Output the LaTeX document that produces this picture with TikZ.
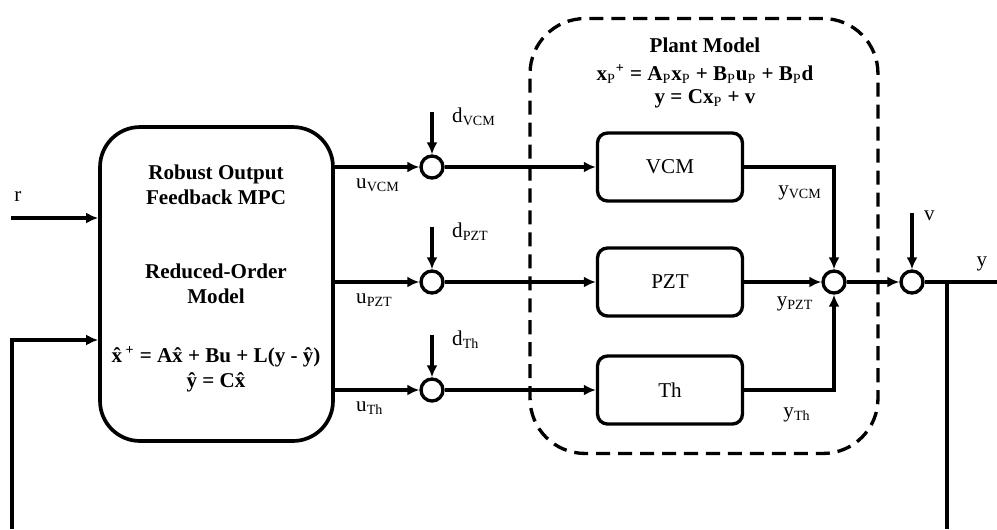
\documentclass[tikz,border=0pt]{standalone}
\usepackage{fontspec}
\setmainfont{Liberation Serif}
\usetikzlibrary{positioning,arrows.meta}

\tikzset{
  wire/.style={line width=1.9pt},
  sig/.style={wire, -{Latex[length=2.4mm,width=2.2mm]}},
  ctrl/.style={draw, line width=2.1pt, rounded corners=0.8cm, minimum width=4.66cm, minimum height=6.28cm},
  blk/.style={draw, line width=1.9pt, rounded corners=0.2cm, minimum width=2.9cm, minimum height=1.36cm},
  sumc/.style={draw, circle, line width=1.9pt, minimum size=0.44cm, inner sep=0pt},
  plantbox/.style={draw, line width=1.9pt, dash pattern=on 8pt off 4.5pt, rounded corners=1.1cm, minimum width=6.96cm, minimum height=8.7cm},
  bold/.style={font=\bfseries\fontsize{12}{14.2}\selectfont, align=center},
}

\begin{document}
\begin{tikzpicture}[x=0.02cm, y=-0.02cm, font=\fontsize{12}{14}\selectfont]
\useasboundingbox (0,0) rectangle (997,529);
% plant model frame
\node[plantbox] (plant) at (704,236) {};
\node[bold] (ptitle) at (705,45) {Plant Model};
\node[bold] (peq1) at (705,74) {x\textsubscript{\mdseries P}\textsuperscript{+} = A\textsubscript{\mdseries P}x\textsubscript{\mdseries P} + B\textsubscript{\mdseries P}u\textsubscript{\mdseries P} + B\textsubscript{\mdseries P}d};
\node[bold] (peq2) at (705,99) {y = Cx\textsubscript{\mdseries P} + v};
% controller
\node[ctrl] (mpc) at (216.5,284) {};
\node[bold] (mpct) at (216,184.5) {Robust Output\\Feedback MPC};
\node[bold] (romt) at (216,283.5) {Reduced-Order\\Model};
\node[bold] (obs) at (216,369) {\^{x}\,\textsuperscript{+} = A\^{x} + Bu + L(y - \^{y})\\\^{y} = C\^{x}};
% inputs to controller
\coordinate (rin) at (11,218);
\draw[sig] (rin) -- (rin -| mpc.west);
\node (rlab) at (18,197) {r};
\coordinate (fbl) at (12,529);
\draw[sig] (fbl) |- (mpc.west |- 0,340);
% channels
\foreach \ch/\yy in {VCM/167,PZT/282,Th/390} {
  \node[sumc] (s\ch) at (432,\yy) {};
  \node[blk] (b\ch) at (670,\yy) {\ch};
  \coordinate (d\ch) at (432,\yy-55);
  \draw[sig] (mpc.east |- s\ch) -- (s\ch);
  \draw[sig] (s\ch) -- (b\ch);
  \draw[sig] (d\ch) -- (s\ch);
  \node[anchor=west] (dl\ch) at (446,\yy-50) {d\textsubscript{\ch}};
  \node[anchor=west] (ul\ch) at (350,\yy+18) {u\textsubscript{\ch}};
}
% outputs
\node[sumc] (sy) at (834,282) {};
\node[sumc] (sv) at (912,282) {};
\draw[sig] (bVCM.east) -| (sy.north);
\draw[sig] (bPZT.east) -- (sy.west);
\draw[sig] (bTh.east) -| (sy.south);
\node (ylVCM) at (800,193) {y\textsubscript{VCM}};
\node (ylPZT) at (795,304) {y\textsubscript{PZT}};
\node (ylTh) at (797,415) {y\textsubscript{Th}};
\draw[sig] (sy) -- (sv);
\coordinate (vin) at (912,213);
\draw[sig] (vin) -- (sv);
\node[anchor=west] (vlab) at (918,216) {v};
\coordinate (yout) at (997,282);
\coordinate (tap) at (947,282);
\coordinate (fbr) at (947,529);
\draw[wire] (sv) -- (yout);
\draw[wire] (tap) -- (fbr);
\node (ylab) at (982,264) {y};
\end{tikzpicture}
\end{document}
